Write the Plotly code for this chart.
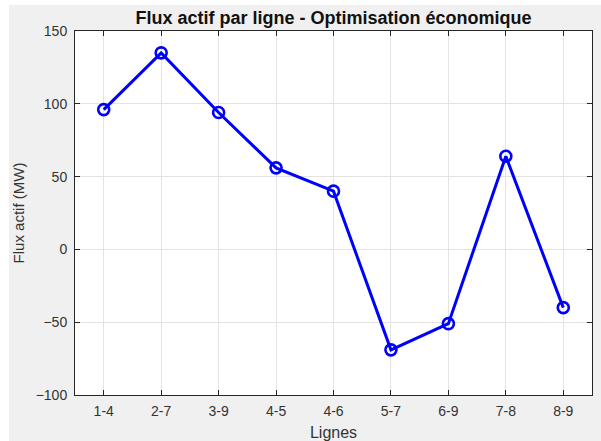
import plotly.graph_objects as go

lignes = ["1-4", "2-7", "3-9", "4-5", "4-6", "5-7", "6-9", "7-8", "8-9"]
flux = [96, 135, 94, 56, 40, -69, -51, 64, -40]
y_ticks = [-100, -50, 0, 50, 100, 150]

idx = list(range(1, len(lignes) + 1))

fig = go.Figure()
fig.add_trace(go.Scatter(
    x=idx, y=flux, mode="lines+markers",
    line=dict(color="#0000ff", width=3),
    marker=dict(symbol="circle-open", size=11, color="#0000ff", line=dict(width=2.6, color="#0000ff")),
    showlegend=False, cliponaxis=False,
))

W, H = 601, 441
L, R, T, B = 75, 592, 31, 395
pw, ph = R - L, B - T

# thin white strips on the left and top of the grey figure background
fig.add_shape(type="rect", xref="paper", yref="paper",
              x0=(-5 - L) / pw, x1=(9 - L) / pw,
              y0=(B - (H + 5)) / ph, y1=(B + 5) / ph,
              fillcolor="white", line=dict(width=0), layer="below")
fig.add_shape(type="rect", xref="paper", yref="paper",
              x0=(-5 - L) / pw, x1=(W + 5 - L) / pw,
              y0=(B - 5) / ph, y1=(B + 5) / ph,
              fillcolor="white", line=dict(width=0), layer="below")

axis_common = dict(
    showline=True, linecolor="#262626", linewidth=1, mirror="ticks",
    ticks="inside", ticklen=5, tickcolor="#262626",
    showgrid=True, gridcolor="#e3e3e3", gridwidth=1, zeroline=False,
    automargin=False,
    tickfont=dict(family="Liberation Sans, Arial", size=14, color="#333333"),
)

fig.update_layout(
    width=W, height=H,
    margin=dict(l=L, r=W - R, t=T, b=H - B, pad=0),
    paper_bgcolor="#f0f0f0", plot_bgcolor="white",
    title=dict(text="<b>Flux actif par ligne - Optimisation économique</b>",
               x=(L + R) / 2 / W, xanchor="center", y=1 - 18 / H, yanchor="middle",
               font=dict(family="Liberation Sans, Arial", size=18, color="#111111")),
    xaxis=dict(range=[0.5, len(lignes) + 0.5], tickvals=idx, ticktext=lignes,
               ticklabelstandoff=3,
               title=dict(text="Lignes", standoff=9,
                          font=dict(family="Liberation Sans, Arial", size=16, color="#333333")),
               **axis_common),
    yaxis=dict(range=[-100, 150], tickvals=y_ticks, ticklabelstandoff=4,
               title=dict(text="Flux actif (MW)", standoff=7,
                          font=dict(family="Liberation Sans, Arial", size=15, color="#333333")),
               **axis_common),
)

fig.write_html("out.html", config={"displayModeBar": False},
               post_script="document.body.style.margin='0px';")
